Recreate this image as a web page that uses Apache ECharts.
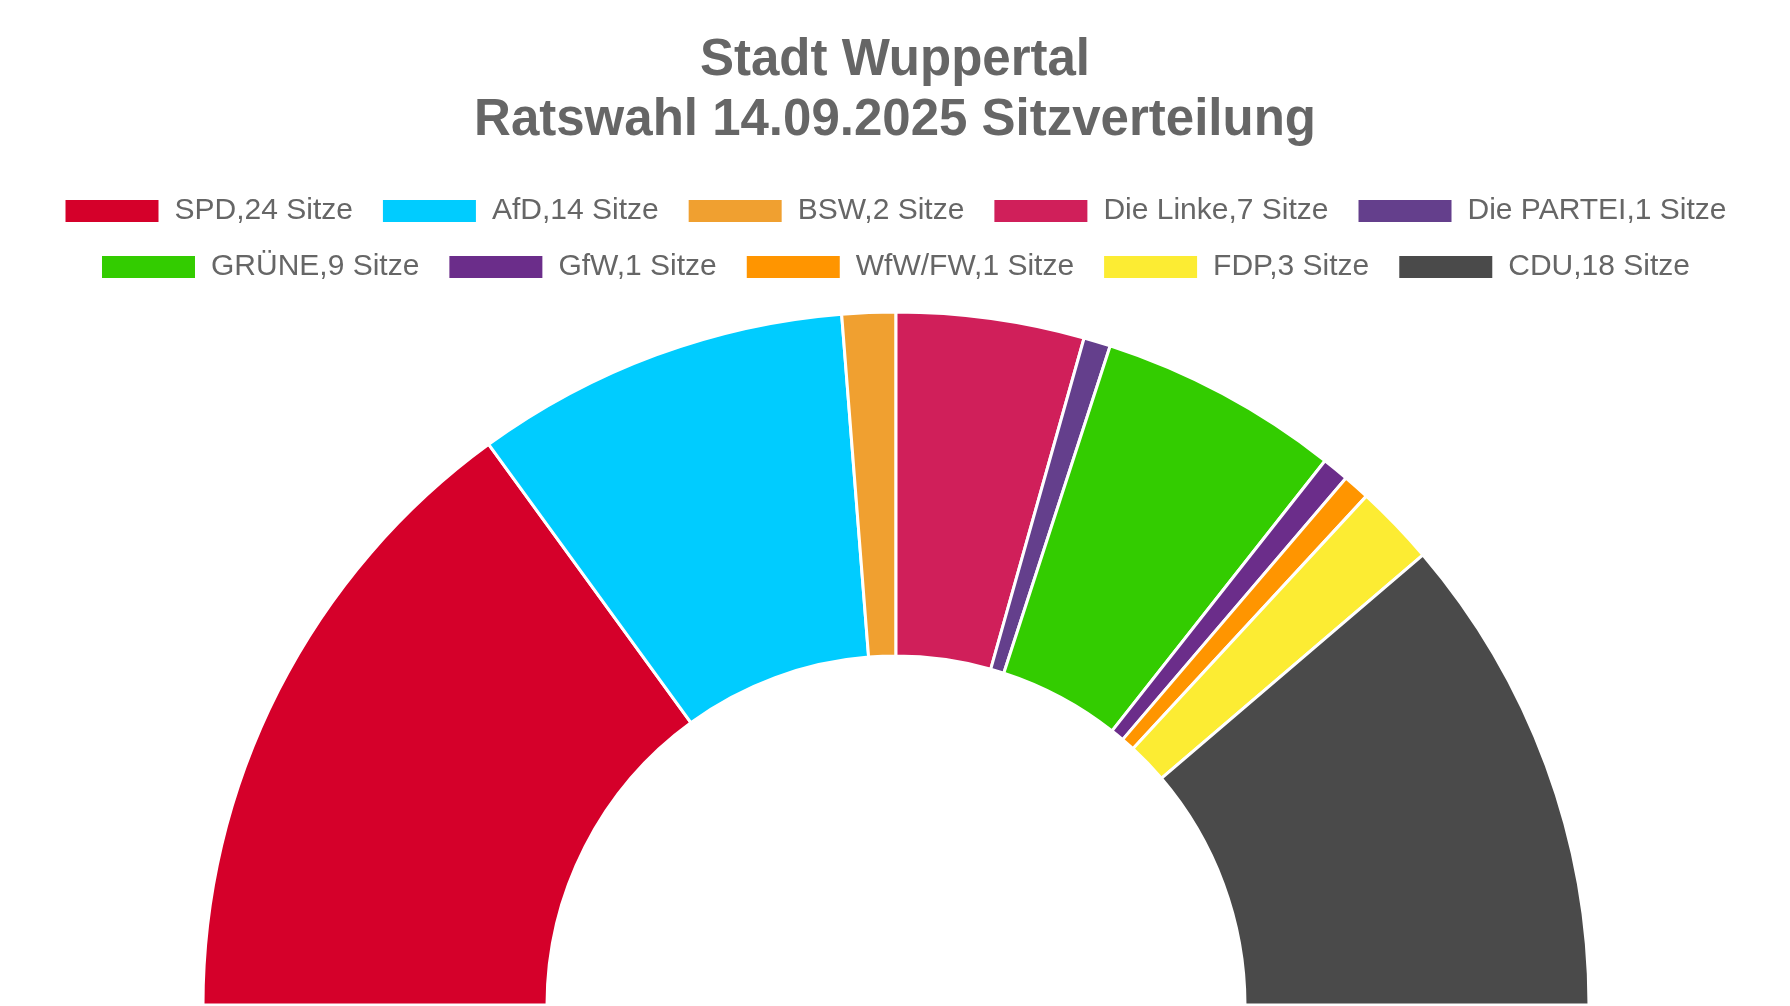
<!DOCTYPE html>
<html>
<head>
<meta charset="utf-8">
<script src="https://cdn.jsdelivr.net/npm/echarts@6/dist/echarts.min.js"></script>
<style>html,body{margin:0;padding:0;background:#fff;}#c{width:1790px;height:1006px;}</style>
</head>
<body>
<div id="c"></div>
<script>
const parties = ['SPD','AfD','BSW','Die Linke','Die PARTEI','GRÜNE','GfW','WfW/FW','FDP','CDU'];
const seats = [24,14,2,7,1,9,1,1,3,18];
const colors = ['#d5002a','#00ccff','#f0a030','#d01f5a','#643f8c','#33cc00','#6b2d8a','#ff9500','#fcec33','#4a4a4a'];
const row1 = parties.slice(0,5);
const row2 = parties.slice(5);

const chart = echarts.init(document.getElementById('c'));
const font = '"Liberation Sans", Arial, Helvetica, sans-serif';
const legendBase = {
  left: 'center',
  orient: 'horizontal',
  icon: 'rect',
  itemWidth: 95,
  itemHeight: 24,
  itemGap: 28,
  selectedMode: false,
  textStyle: { fontSize: 30, color: '#666', fontFamily: font, padding: [0,0,0,10] },
  formatter: function (name) { return name + ',' + seats[parties.indexOf(name)] + ' Sitze'; }
};
chart.setOption({
  backgroundColor: '#fff',
  title: {
    text: 'Stadt Wuppertal\nRatswahl 14.09.2025 Sitzverteilung',
    left: 'center',
    top: 26,
    textStyle: { fontSize: 51, fontWeight: 'bold', color: '#666', lineHeight: 60, fontFamily: font }
  },
  legend: [
    Object.assign({}, legendBase, { top: 191, data: row1 }),
    Object.assign({}, legendBase, { top: 247, data: row2 })
  ],
  series: [{
    type: 'pie',
    center: [896, 1005],
    radius: [349, 693],
    startAngle: 180,
    endAngle: 0,
    clockwise: true,
    silent: true,
    label: { show: false },
    labelLine: { show: false },
    itemStyle: { borderColor: '#fff', borderWidth: 3 },
    data: parties.map((p, i) => ({ name: p, value: seats[i], itemStyle: { color: colors[i] } }))
  }]
});
</script>
</body>
</html>
